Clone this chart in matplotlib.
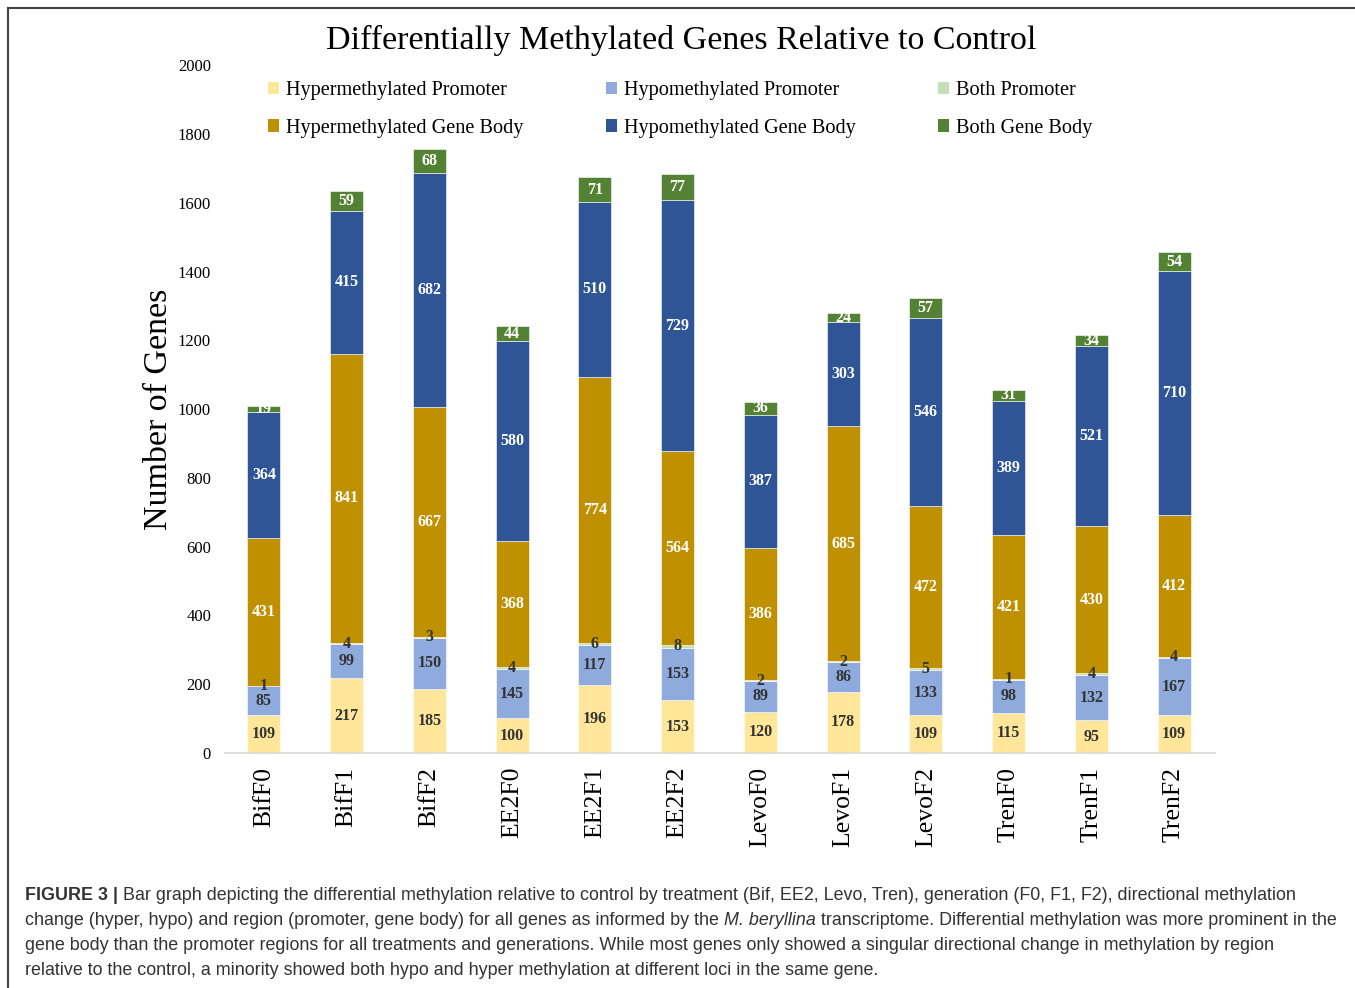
import matplotlib
matplotlib.use("Agg")
import matplotlib.pyplot as plt
from matplotlib.patches import Patch
from matplotlib.lines import Line2D
import numpy as np

# Data
samples = ['BifF0', 'BifF1', 'BifF2', 'EE2F0', 'EE2F1', 'EE2F2',
           'LevoF0', 'LevoF1', 'LevoF2', 'TrenF0', 'TrenF1', 'TrenF2']
hyper_prom = [109, 217, 185, 100, 196, 153, 120, 178, 109, 115, 95, 109]
hypo_prom = [85, 99, 150, 145, 117, 153, 89, 86, 133, 98, 132, 167]
both_prom = [1, 4, 3, 4, 6, 8, 2, 2, 5, 1, 4, 4]
hyper_body = [431, 841, 667, 368, 774, 564, 386, 685, 472, 421, 430, 412]
hypo_body = [364, 415, 682, 580, 510, 729, 387, 303, 546, 389, 521, 710]
both_body = [19, 59, 68, 44, 71, 77, 36, 24, 57, 31, 34, 54]

series = [
    ('Hypermethylated Promoter', hyper_prom, '#FFE699', '#333333'),
    ('Hypomethylated Promoter', hypo_prom, '#8FAADC', '#333333'),
    ('Both Promoter', both_prom, '#C5E0B4', '#333333'),
    ('Hypermethylated Gene Body', hyper_body, '#BF9000', 'white'),
    ('Hypomethylated Gene Body', hypo_body, '#2F5597', 'white'),
    ('Both Gene Body', both_body, '#548235', 'white'),
]

serif = ['Liberation Serif', 'DejaVu Serif']
plt.rcParams['font.family'] = serif

fig = plt.figure(figsize=(13.55, 9.88), dpi=100)
ax = fig.add_axes([0.166, 0.238, 0.731, 0.696])

x = np.arange(len(samples))
bottom = np.zeros(len(samples))
for name, vals, color, tcolor in series:
    vals = np.array(vals)
    ax.bar(x, vals, width=0.4, bottom=bottom, color=color,
           edgecolor='white', linewidth=0.4, label=name)
    for xi, b, v in zip(x, bottom, vals):
        ax.text(xi, b + v / 2, str(v), ha='center', va='center',
                fontsize=11.5, fontweight='bold', color=tcolor)
    bottom += vals

ax.set_ylim(0, 2000)
ax.set_xlim(-0.47, 11.5)
ax.set_yticks(range(0, 2001, 200))
ax.tick_params(axis='y', length=0, labelsize=12, pad=10)
ax.tick_params(axis='x', length=0, labelsize=18.5, pad=10)
ax.set_xticks(x)
ax.set_xticklabels(samples, rotation=90)
for s in ['top', 'right', 'left']:
    ax.spines[s].set_visible(False)
ax.spines['bottom'].set_color('#d9d9d9')
ax.spines['bottom'].set_linewidth(1.2)

ax.set_ylabel('Number of Genes', fontsize=24.5, labelpad=2.5)
fig.text(0.503, 1 - 40 / 988, 'Differentially Methylated Genes Relative to Control',
         ha='center', va='center', fontsize=24.5)

# legend: rows of three
order = [0, 3, 1, 4, 2, 5]
handles = [Patch(facecolor=series[i][2], label=series[i][0]) for i in order]
leg = ax.legend(handles=handles, ncol=3, frameon=False, fontsize=14.6,
                handlelength=0.55, handleheight=0.55, handletextpad=0.35,
                columnspacing=4.05, labelspacing=0.9,
                loc='upper left', bbox_to_anchor=(0.025, 1.003))

# outer frame
fig.add_artist(Line2D([8 / 1355, 8 / 1355], [0, 1 - 8 / 988], color='#444444', lw=1.5))
fig.add_artist(Line2D([8 / 1355, 1], [1 - 8 / 988, 1 - 8 / 988], color='#444444', lw=1.5))

# caption
cap_lines = [
    [('FIGURE 3 | ', 'bold', 'normal'),
     ('Bar graph depicting the differential methylation relative to control by treatment (Bif, EE2, Levo, Tren), generation (F0, F1, F2), directional methylation', 'normal', 'normal')],
    [('change (hyper, hypo) and region (promoter, gene body) for all genes as informed by the ', 'normal', 'normal'),
     ('M. beryllina', 'normal', 'italic'),
     (' transcriptome. Differential methylation was more prominent in the', 'normal', 'normal')],
    [('gene body than the promoter regions for all treatments and generations. While most genes only showed a singular directional change in methylation by region', 'normal', 'normal')],
    [('relative to the control, a minority showed both hypo and hyper methylation at different loci in the same gene.', 'normal', 'normal')],
]
renderer = fig.canvas.get_renderer()
y0 = 1 - 895 / 988
for i, line in enumerate(cap_lines):
    xpos = 25 / 1355
    yy = y0 - i * 25 / 988
    for txt, weight, style in line:
        t = fig.text(xpos, yy, txt, ha='left', va='center', fontsize=12.88,
                     family=['Liberation Sans', 'DejaVu Sans'], weight=weight,
                     style=style, color='#333333')
        bb = t.get_window_extent(renderer)
        xpos = bb.x1 / fig.bbox.width

fig.savefig('out.png', dpi=100)
